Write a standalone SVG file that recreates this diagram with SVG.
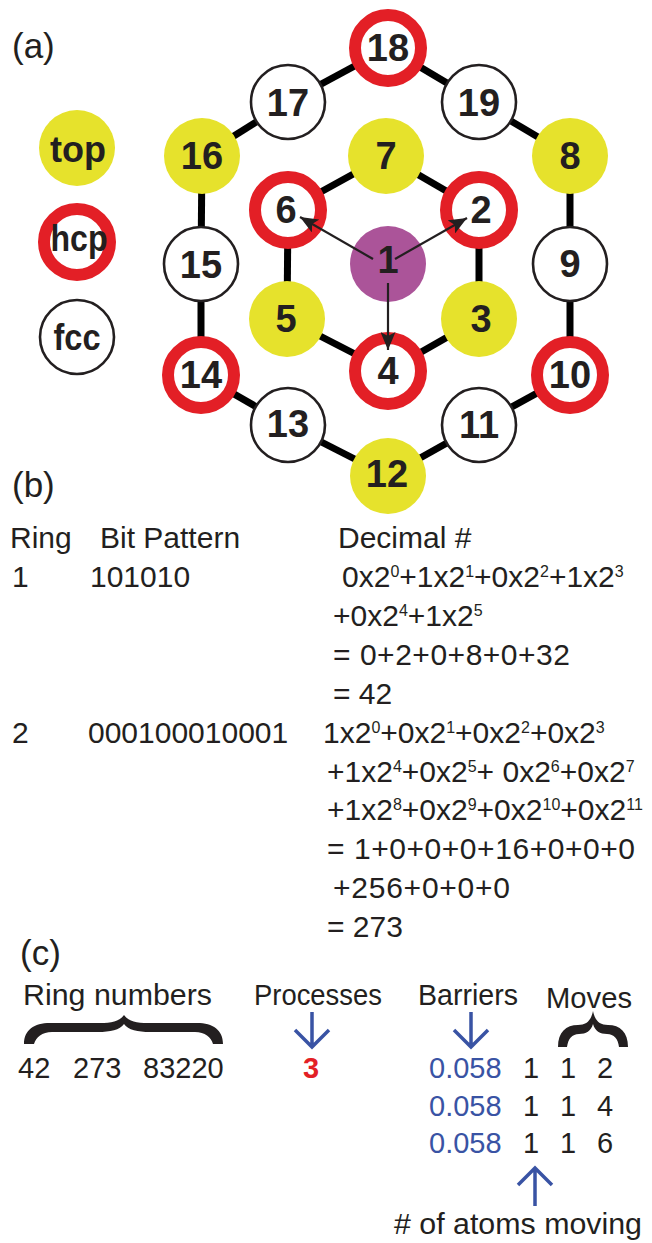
<svg xmlns="http://www.w3.org/2000/svg" width="652" height="1243" viewBox="0 0 652 1243">
<style>
.edge{stroke:#000;stroke-width:7;fill:none}
.top{fill:#e6e22c}
.hcp{fill:#fff;stroke:#e31f26;stroke-width:12}
.fcc{fill:#fff;stroke:#231f20;stroke-width:2.6}
.ctr{fill:#ab5499}
.lbl{font-family:"Liberation Sans",Arial,sans-serif;font-weight:bold;font-size:38px;fill:#231f20;text-anchor:middle}
.leg{font-family:"Liberation Sans",Arial,sans-serif;font-weight:bold;font-size:37px;fill:#231f20;text-anchor:middle}
.t{font-family:"Liberation Sans",Arial,sans-serif;font-size:30px;fill:#231f20}
.c{font-family:"Liberation Sans",Arial,sans-serif;font-size:29px;fill:#231f20}
.s{font-size:16px}
.blue{fill:#3953a4}
.red{fill:#e31f26;font-weight:bold}
.arr{stroke:#231f20;stroke-width:2.2;fill:none;marker-end:url(#ah)}
.barr{stroke:#3953a4;stroke-width:3.5;fill:none;stroke-linecap:butt}
.brace{fill:#231f20}
</style>
<defs>
<marker id="ah" markerUnits="userSpaceOnUse" markerWidth="18" markerHeight="15" viewBox="0 0 18 15" refX="18" refY="7.5" orient="auto">
<path d="M0,0 L18,7.5 L0,15 L4,7.5 Z" fill="#231f20"/>
</marker>
</defs>
<rect width="652" height="1243" fill="#fff"/>

<text class="t" x="12" y="58" style="font-size:35px">(a)</text>

<g id="legend">
<g id="legend-top"><circle class="top" cx="77" cy="148" r="38"/><text class="leg" x="78" y="162" textLength="56" lengthAdjust="spacingAndGlyphs">top</text></g>
<g id="legend-hcp"><circle class="hcp" cx="77" cy="242" r="33"/><text class="leg" x="79" y="251" textLength="57" lengthAdjust="spacingAndGlyphs">hcp</text></g>
<g id="legend-fcc"><circle class="fcc" cx="77" cy="337" r="37"/><text class="leg" x="77" y="350" textLength="47" lengthAdjust="spacingAndGlyphs">fcc</text></g>
</g>

<g id="connectors">
<line class="edge" x1="202" y1="156" x2="288" y2="102"/>
<line class="edge" x1="288" y1="102" x2="388" y2="48"/>
<line class="edge" x1="388" y1="48" x2="479" y2="102"/>
<line class="edge" x1="479" y1="102" x2="570" y2="156"/>
<line class="edge" x1="570" y1="156" x2="570" y2="264"/>
<line class="edge" x1="570" y1="264" x2="570" y2="375"/>
<line class="edge" x1="570" y1="375" x2="479" y2="425"/>
<line class="edge" x1="479" y1="425" x2="388" y2="476"/>
<line class="edge" x1="388" y1="476" x2="288" y2="425"/>
<line class="edge" x1="288" y1="425" x2="201" y2="375"/>
<line class="edge" x1="201" y1="375" x2="201" y2="264"/>
<line class="edge" x1="201" y1="264" x2="202" y2="156"/>
<line class="edge" x1="288" y1="210" x2="386" y2="156"/>
<line class="edge" x1="386" y1="156" x2="479" y2="210"/>
<line class="edge" x1="479" y1="210" x2="479" y2="319"/>
<line class="edge" x1="479" y1="319" x2="388" y2="371"/>
<line class="edge" x1="388" y1="371" x2="287" y2="319"/>
<line class="edge" x1="287" y1="319" x2="288" y2="210"/>
</g>

<g id="nodes">
<g id="n1"><circle class="ctr" cx="388" cy="264" r="38"/><text class="lbl" x="388" y="273">1</text></g>
<g id="n2"><circle class="hcp" cx="479" cy="210" r="33"/><text class="lbl" x="481" y="223">2</text></g>
<g id="n3"><circle class="top" cx="479" cy="319" r="38"/><text class="lbl" x="481" y="332">3</text></g>
<g id="n4"><circle class="hcp" cx="388" cy="371" r="33"/><text class="lbl" x="388" y="384">4</text></g>
<g id="n5"><circle class="top" cx="287" cy="319" r="38"/><text class="lbl" x="286" y="332">5</text></g>
<g id="n6"><circle class="hcp" cx="288" cy="210" r="33"/><text class="lbl" x="286" y="223">6</text></g>
<g id="n7"><circle class="top" cx="386" cy="156" r="38"/><text class="lbl" x="386" y="169">7</text></g>
<g id="n8"><circle class="top" cx="570" cy="156" r="38"/><text class="lbl" x="570" y="169">8</text></g>
<g id="n9"><circle class="fcc" cx="570" cy="264" r="37"/><text class="lbl" x="570" y="277">9</text></g>
<g id="n10"><circle class="hcp" cx="570" cy="375" r="33"/><text class="lbl" x="570" y="388">10</text></g>
<g id="n11"><circle class="fcc" cx="479" cy="425" r="37"/><text class="lbl" x="479" y="438">11</text></g>
<g id="n12"><circle class="top" cx="388" cy="476" r="38"/><text class="lbl" x="387" y="487">12</text></g>
<g id="n13"><circle class="fcc" cx="288" cy="425" r="37"/><text class="lbl" x="288" y="437">13</text></g>
<g id="n14"><circle class="hcp" cx="201" cy="375" r="33"/><text class="lbl" x="201" y="388">14</text></g>
<g id="n15"><circle class="fcc" cx="201" cy="264" r="37"/><text class="lbl" x="201" y="278">15</text></g>
<g id="n16"><circle class="top" cx="202" cy="156" r="38"/><text class="lbl" x="202" y="169">16</text></g>
<g id="n17"><circle class="fcc" cx="288" cy="102" r="37"/><text class="lbl" x="288" y="116">17</text></g>
<g id="n18"><circle class="hcp" cx="388" cy="48" r="33"/><text class="lbl" x="388" y="61">18</text></g>
<g id="n19"><circle class="fcc" cx="479" cy="102" r="37"/><text class="lbl" x="479" y="116">19</text></g>
</g>

<g id="arrows">
<line class="arr" x1="373" y1="259" x2="300" y2="217"/>
<line class="arr" x1="395" y1="259" x2="467" y2="218"/>
<line class="arr" x1="388" y1="283" x2="388" y2="350"/>
</g>

<g id="section-b">
<text class="t" x="12" y="497" style="font-size:35px">(b)</text>
<text class="t" x="10" y="548">Ring</text>
<text class="t" x="100" y="548">Bit Pattern</text>
<text class="t" x="338" y="548">Decimal #</text>
<text class="t" x="12" y="587">1</text>
<text class="t" x="90" y="587">101010</text>
<text class="t" x="342" y="587">0x2<tspan class="s" dy="-10">0</tspan><tspan dy="10">+1x2</tspan><tspan class="s" dy="-10">1</tspan><tspan dy="10">+0x2</tspan><tspan class="s" dy="-10">2</tspan><tspan dy="10">+1x2</tspan><tspan class="s" dy="-10">3</tspan></text>
<text class="t" x="333" y="626">+0x2<tspan class="s" dy="-10">4</tspan><tspan dy="10">+1x2</tspan><tspan class="s" dy="-10">5</tspan></text>
<text class="t" x="333" y="665" textLength="237">= 0+2+0+8+0+32</text>
<text class="t" x="333" y="704">= 42</text>
<text class="t" x="12" y="743">2</text>
<text class="t" x="88" y="743">000100010001</text>
<text class="t" x="323" y="743">1x2<tspan class="s" dy="-10">0</tspan><tspan dy="10">+0x2</tspan><tspan class="s" dy="-10">1</tspan><tspan dy="10">+0x2</tspan><tspan class="s" dy="-10">2</tspan><tspan dy="10">+0x2</tspan><tspan class="s" dy="-10">3</tspan></text>
<text class="t" x="327" y="782">+1x2<tspan class="s" dy="-10">4</tspan><tspan dy="10">+0x2</tspan><tspan class="s" dy="-10">5</tspan><tspan dy="10">+ 0x2</tspan><tspan class="s" dy="-10">6</tspan><tspan dy="10">+0x2</tspan><tspan class="s" dy="-10">7</tspan></text>
<text class="t" x="327" y="820">+1x2<tspan class="s" dy="-10">8</tspan><tspan dy="10">+0x2</tspan><tspan class="s" dy="-10">9</tspan><tspan dy="10">+0x2</tspan><tspan class="s" dy="-10">10</tspan><tspan dy="10">+0x2</tspan><tspan class="s" dy="-10">11</tspan></text>
<text class="t" x="327" y="859" textLength="308">= 1+0+0+0+16+0+0+0</text>
<text class="t" x="333" y="898" textLength="177">+256+0+0+0</text>
<text class="t" x="327" y="937">= 273</text>
</g>

<g id="section-c">
<text class="t" x="20" y="965" style="font-size:35px">(c)</text>
<text class="c" x="23" y="1005" textLength="189" lengthAdjust="spacingAndGlyphs">Ring numbers</text>
<text class="c" x="254" y="1005" textLength="128" lengthAdjust="spacingAndGlyphs">Processes</text>
<text class="c" x="418" y="1005" textLength="100" lengthAdjust="spacingAndGlyphs">Barriers</text>
<text class="c" x="546" y="1008" textLength="86" lengthAdjust="spacingAndGlyphs">Moves</text>
<path class="brace" d="M24,1044 C24,1030 34,1023 50,1023 L100,1023 C112,1023 120,1021 124,1015 C128,1021 136,1023 148,1023 L197,1023 C213,1023 223,1030 223,1044 L213,1044 C211,1037 205,1032 195,1032 L150,1032 C138,1032 128,1030 124,1024 C120,1030 110,1032 98,1032 L52,1032 C42,1032 36,1037 34,1044 Z"/>
<path class="brace" d="M558,1047 C558,1032 566,1025 578,1025 C586,1025 591,1021 593,1011 C595,1021 600,1025 608,1025 C620,1025 628,1032 628,1047 L619,1047 C618,1039 614,1034 607,1034 C600,1034 595,1031 593,1024 C591,1031 586,1034 579,1034 C572,1034 568,1039 567,1047 Z"/>
<path class="barr" d="M312,1012 L312,1046 M295,1030 L312,1047 L329,1030"/>
<path class="barr" d="M471,1012 L471,1046 M454,1030 L471,1047 L488,1030"/>
<path class="barr" d="M535,1206 L535,1169 M518,1185 L535,1168 L552,1185"/>
<text class="c" x="18" y="1078">42</text>
<text class="c" x="73" y="1078">273</text>
<text class="c" x="143" y="1078">83220</text>
<text class="c red" x="311" y="1078" text-anchor="middle">3</text>
<text class="c blue" x="429" y="1078">0.058</text>
<text class="c" x="523" y="1078">1</text>
<text class="c" x="560" y="1078">1</text>
<text class="c" x="597" y="1078">2</text>
<text class="c blue" x="429" y="1116">0.058</text>
<text class="c" x="523" y="1116">1</text>
<text class="c" x="560" y="1116">1</text>
<text class="c" x="597" y="1116">4</text>
<text class="c blue" x="429" y="1153">0.058</text>
<text class="c" x="523" y="1153">1</text>
<text class="c" x="560" y="1153">1</text>
<text class="c" x="597" y="1153">6</text>
<text class="c" x="394" y="1234" textLength="248" lengthAdjust="spacingAndGlyphs"># of atoms moving</text>
</g>
</svg>
